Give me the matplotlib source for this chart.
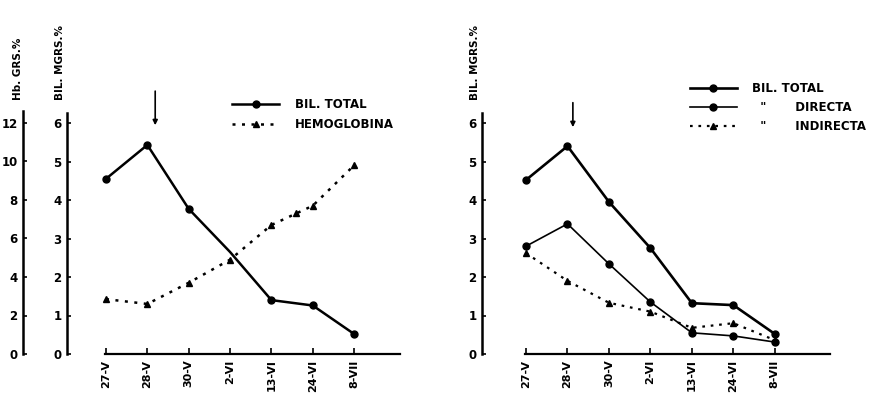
import matplotlib
matplotlib.use("Agg")
import matplotlib.pyplot as plt
import numpy as np

# fechas (same for both panels)
dates = ["27-V", "28-V", "30-V", "2-VI", "13-VI", "24-VI", "8-VII"]
x_dates = [0, 1, 2, 3, 4, 5, 6]

# left panel
bil_total_l = [4.55, 5.43, 3.77, 2.65, 1.40, 1.26, 0.52]
hb_x = [0, 1, 2, 3, 4, 4.6, 5, 6]
hemoglobina = [2.85, 2.6, 3.7, 4.9, 6.7, 7.3, 7.7, 9.8]

# right panel
bil_total_r = [4.52, 5.40, 3.95, 2.75, 1.32, 1.27, 0.52]
bil_directa = [2.80, 3.38, 2.34, 1.35, 0.55, 0.47, 0.31]
bil_indirecta = [2.62, 1.90, 1.33, 1.10, 0.68, 0.80, 0.36]

bil_ticks = [0, 1, 2, 3, 4, 5, 6]
hb_ticks = [0, 2, 4, 6, 8, 10, 12]

PX = 0.72  # points per pixel at dpi 100
dotted = (0, (1.2, 2.6))
bold = dict(fontweight="bold", family="DejaVu Sans")

fig = plt.figure(figsize=(8.7, 3.93), dpi=100)
axL = fig.add_axes([100 / 870, 39 / 393, 300 / 870, 269 / 393])
axR = fig.add_axes([520 / 870, 39 / 393, 310 / 870, 269 / 393])


def style_axis(ax, xmax, left_px):
    ax.set_ylim(0, 269 / 38.5)
    ax.set_xlim(-0.145, xmax)
    for s in ["top", "right"]:
        ax.spines[s].set_visible(False)
    ax.spines["left"].set_position(("outward", left_px * PX))
    ax.spines["left"].set_bounds(0, 6.25)
    ax.spines["left"].set_linewidth(1.8)
    ax.spines["bottom"].set_bounds(-0.03, xmax)
    ax.spines["bottom"].set_linewidth(1.6)
    ax.set_yticks(bil_ticks)
    ax.set_yticklabels([str(t) for t in bil_ticks], **bold)
    ax.set_xticks(x_dates)
    ax.set_xticklabels(dates, rotation=90, **bold)
    ax.tick_params(axis="y", direction="in", length=3, width=1.2, labelsize=8.5, pad=4)
    ax.tick_params(axis="x", direction="in", length=4, width=1.2, labelsize=8, pad=4)


style_axis(axL, 7.11, 33)
style_axis(axR, 7.33, 38)

# second scale for hemoglobin
axHb = axL.twinx()
axHb.set_ylim(0, 2 * 269 / 38.5)
axHb.spines["right"].set_visible(False)
axHb.spines["top"].set_visible(False)
axHb.spines["bottom"].set_visible(False)
axHb.spines["left"].set_visible(True)
axHb.spines["left"].set_position(("outward", 77 * PX))
axHb.spines["left"].set_bounds(0, 12.6)
axHb.spines["left"].set_linewidth(1.8)
axHb.yaxis.set_ticks_position("left")
axHb.yaxis.set_label_position("left")
axHb.set_yticks(hb_ticks)
axHb.set_yticklabels([str(t) for t in hb_ticks], **bold)
axHb.tick_params(axis="y", direction="in", length=3, width=1.2, labelsize=8.5, pad=4)

# lines
lt, = axL.plot(x_dates, bil_total_l, color="k", lw=1.8, marker="o", ms=5,
               markevery=[0, 1, 2, 4, 5, 6], label="BIL. TOTAL")
lhb, = axHb.plot(hb_x, hemoglobina, color="k", lw=1.8, ls=dotted, marker="^", ms=5,
                 label="HEMOGLOBINA")

rt, = axR.plot(x_dates, bil_total_r, color="k", lw=1.9, marker="o", ms=5)
rd, = axR.plot(x_dates, bil_directa, color="k", lw=1.2, marker="o", ms=5)
ri, = axR.plot(x_dates, bil_indirecta, color="k", lw=1.6, ls=dotted, marker="^", ms=5)

# arrows
axL.annotate("", xy=(1.19, 5.87), xytext=(1.19, 6.9),
             arrowprops=dict(arrowstyle="-|>", lw=1.2, color="k", mutation_scale=7))
axR.annotate("", xy=(1.13, 5.82), xytext=(1.13, 6.6),
             arrowprops=dict(arrowstyle="-|>", lw=1.2, color="k", mutation_scale=7))

# legends
axHb.legend([lt, lhb], ["BIL. TOTAL", "HEMOGLOBINA"], loc="upper left",
            bbox_to_anchor=(0.44, 0.95), frameon=False, borderpad=0, borderaxespad=0,
            handlelength=4.0, handletextpad=1.3, labelspacing=0.55,
            prop=dict(weight="bold", size=8.5, family="DejaVu Sans"))
axR.legend([rt, rd, ri], ["BIL. TOTAL", '  "       DIRECTA', '  "       INDIRECTA'],
           loc="upper left", bbox_to_anchor=(0.548, 1.01), frameon=False, borderpad=0,
           borderaxespad=0, handlelength=4.0, handletextpad=1.3, labelspacing=0.5,
           prop=dict(weight="bold", size=8.5, family="DejaVu Sans"))

# axis titles
fig.text(18 / 870, 1 - 100 / 393, "Hb. GRS.%", rotation=90, ha="center", va="bottom",
         fontsize=7.5, **bold)
fig.text(60 / 870, 1 - 100 / 393, "BIL. MGRS.%", rotation=90, ha="center", va="bottom",
         fontsize=7.5, **bold)
fig.text(475 / 870, 1 - 100 / 393, "BIL. MGRS.%", rotation=90, ha="center", va="bottom",
         fontsize=7.5, **bold)

fig.savefig("out.png", dpi=100)
